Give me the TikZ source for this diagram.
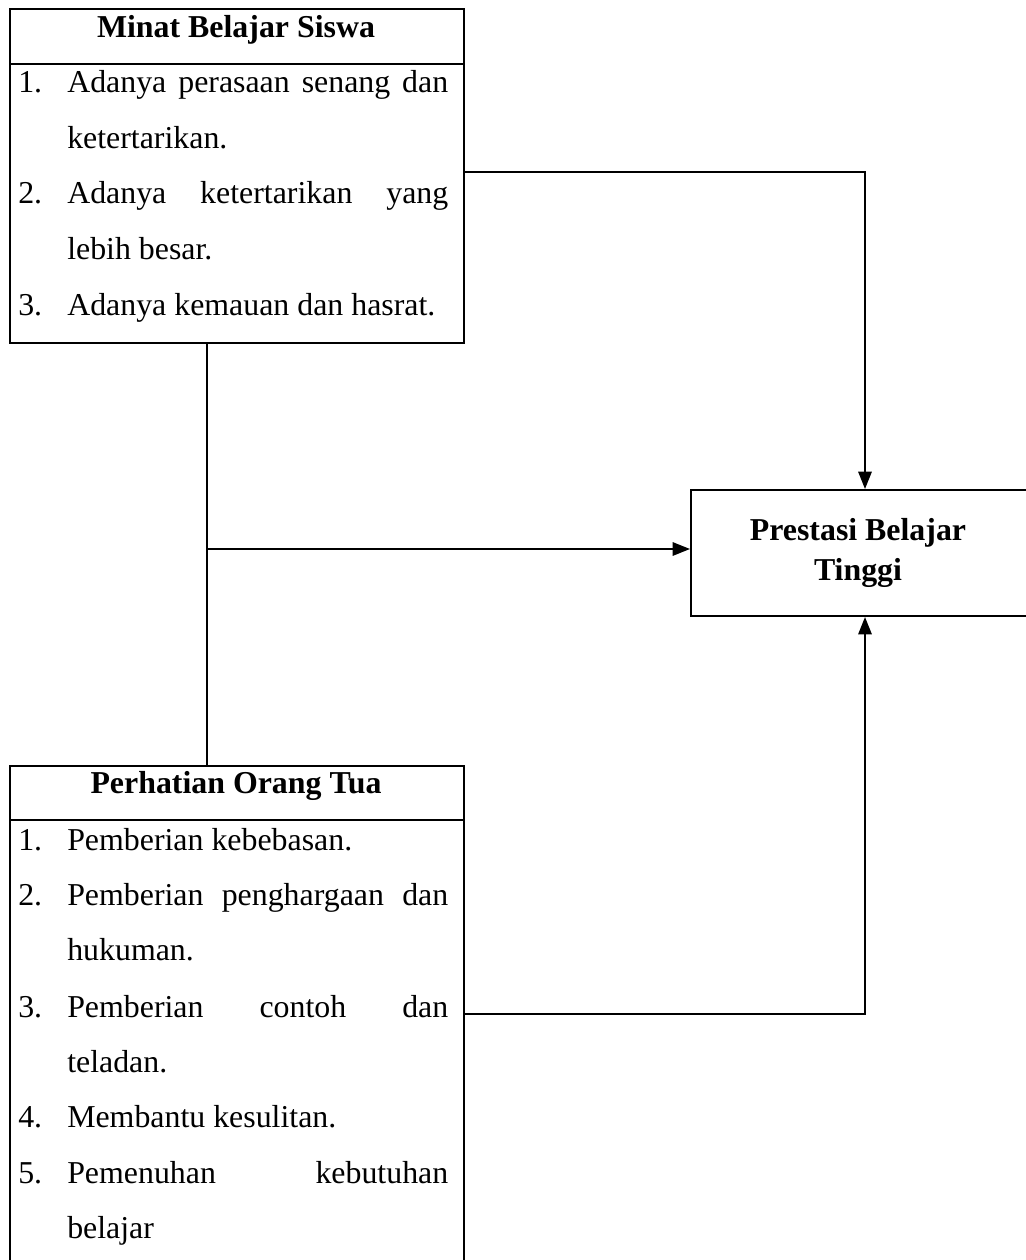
\documentclass[tikz,border=0pt]{standalone}
\usepackage{fontspec}
\setmainfont{Liberation Serif}
\usetikzlibrary{arrows.meta,calc}
\begin{document}
\begin{tikzpicture}[x=0.75pt,y=-0.75pt,
  box/.style={draw,line width=1.5pt,inner sep=0pt,anchor=north west},
  ttl/.style={anchor=base,inner sep=0pt,font=\fontsize{23.9}{30}\selectfont\bfseries},
  num/.style={anchor=base west,inner sep=0pt,font=\fontsize{23.9}{30}\selectfont},
  itm/.style={anchor=base west,inner sep=0pt,font=\fontsize{23.9}{30}\selectfont},
  conn/.style={line width=1.5pt},
  arr/.style={line width=1.5pt,-{Triangle[length=13pt,width=10pt]}}]
\useasboundingbox (0,0) rectangle (1025,1260);
% boxes
\node[box,minimum width=340.5pt,minimum height=250.5pt] (b1) at (9,8) {};
\node[box,minimum width=340.5pt,minimum height=375pt] (b3) at (9,765) {};
\node[box,minimum width=252pt,minimum height=94.5pt] (pr) at (690,489) {};
\draw[conn] (9,64) -- (463,64);
\draw[conn] (9,820) -- (463,820);
% box 1 texts
\node[ttl] (t1) at (236,37) {Minat Belajar Siswa};
\node[num] (n11) at (18,92.7) {1.};
\node[itm] (i11) at (67,92.7) {\makebox[285.75pt][s]{Adanya perasaan senang dan}};
\node[itm] (i12) at (67,148.3) {ketertarikan.};
\node[num] (n12) at (18,203.3) {2.};
\node[itm] (i13) at (67,203.3) {\makebox[285.75pt][s]{Adanya ketertarikan yang}};
\node[itm] (i14) at (67,259.3) {lebih besar.};
\node[num] (n13) at (18,315) {3.};
\node[itm] (i15) at (67,315) {Adanya kemauan dan hasrat.};
% box 3 texts
\node[ttl] (t3) at (236,793) {Perhatian Orang Tua};
\node[num] (n31) at (18,850) {1.};
\node[itm] (i31) at (67,850) {Pemberian kebebasan.};
\node[num] (n32) at (18,905) {2.};
\node[itm] (i32) at (67,905) {\makebox[285.75pt][s]{Pemberian penghargaan dan}};
\node[itm] (i33) at (67,960) {hukuman.};
\node[num] (n33) at (18,1017) {3.};
\node[itm] (i34) at (67,1017) {\makebox[285.75pt][s]{Pemberian contoh dan}};
\node[itm] (i35) at (67,1072) {teladan.};
\node[num] (n34) at (18,1127) {4.};
\node[itm] (i36) at (67,1127) {Membantu kesulitan.};
\node[num] (n35) at (18,1183) {5.};
\node[itm] (i37) at (67,1183) {\makebox[285.75pt][s]{Pemenuhan kebutuhan}};
\node[itm] (i38) at (67,1238) {belajar};
% prestasi text
\node[ttl] (p1) at (858,540) {Prestasi Belajar};
\node[ttl] (p2) at (858,580) {Tinggi};
% connectors
\coordinate (j) at (206,549);
\draw[arr] ([yshift=-123pt]b1.north east) -| ([xshift=4.5pt]pr.north);
\draw[arr] ([yshift=-186.75pt]b3.north east) -| ([xshift=4.5pt]pr.south);
\draw[conn] ([xshift=-22.5pt]b1.south) -- ([xshift=-22.5pt]b3.north);
\draw[arr] (j) -- (j -| pr.west);
\end{tikzpicture}
\end{document}
